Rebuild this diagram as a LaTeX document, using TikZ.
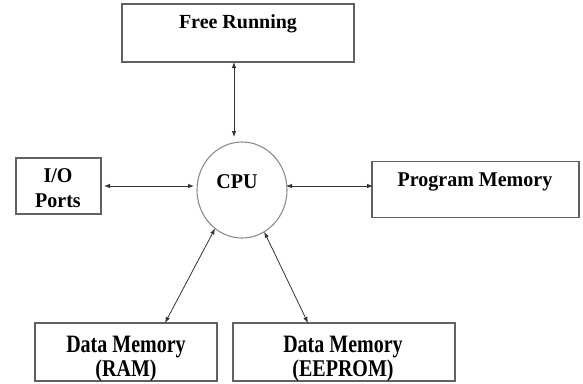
\documentclass[tikz,border=0pt]{standalone}
\usepackage{fontspec}
\setmainfont{Liberation Serif}
\usetikzlibrary{arrows.meta,shapes.geometric,calc}
\definecolor{boxgray}{gray}{0.38}
\definecolor{cpugray}{gray}{0.55}
\definecolor{arrgray}{gray}{0.2}
\begin{document}
\begin{tikzpicture}[x=1pt,y=-1pt,
  box/.style={draw=boxgray,line width=1.1pt,inner sep=0pt,outer sep=0pt,rectangle},
  lbl/.style={font=\fontsize{20}{24}\selectfont\bfseries,anchor=base,inner sep=0pt},
  arr/.style={{Latex[length=6pt,width=4.5pt]}-{Latex[length=6pt,width=4.5pt]},line width=0.8pt,draw=arrgray}]
\useasboundingbox (0,0) rectangle (583,383);
% boxes
\node[box,minimum width=232pt,minimum height=58pt] (fr) at (238,33) {};
\node[box,minimum width=85pt,minimum height=56pt] (io) at (58.5,186) {};
\node[box,minimum width=207pt,minimum height=56pt] (pm) at (475.5,189.5) {};
\node[box,minimum width=182pt,minimum height=58pt] (ram) at (126,352) {};
\node[box,minimum width=222pt,minimum height=58pt] (ee) at (344,352) {};
\node[ellipse,draw=cpugray,line width=1.1pt,minimum width=90pt,minimum height=96pt,inner sep=0pt,outer sep=0pt] (cpu) at (242,190) {};
% labels
\node[lbl] (frt) at (238,28) {Free Running};
\node[lbl] (iot1) at (58,182) {\scalebox{1}[1.05]{I/O}};
\node[lbl] (iot2) at (58,207) {\scalebox{1}[1.05]{Ports}};
\node[lbl] (cput) at (237,188) {\scalebox{1}[1.05]{CPU}};
\node[lbl] (pmt) at (475,186) {\scalebox{1}[1.05]{Program Memory}};
\node[lbl] (ramt1) at (126,352) {\scalebox{1}[1.25]{Data Memory}};
\node[lbl] (ramt2) at (126,376) {\scalebox{1}[1.2]{(RAM)}};
\node[lbl] (eet1) at (343,352) {\scalebox{1}[1.25]{Data Memory}};
\node[lbl] (eet2) at (343,376) {\scalebox{1}[1.2]{(EEPROM)}};
% connectors
\draw[arr] ($(fr.south)+(-4,0)$) -- ($(cpu.north)+(-8,-5)$);
\draw[arr] ($(io.east)+(3,0)$) -- ($(cpu.west)+(-3,-4)$);
\draw[arr] ($(cpu.east)+(-1,-4)$) -- ($(pm.west)+(1,-3.5)$);
\draw[arr] (cpu.235) -- ($(ram.north)+(39,0)$);
\draw[arr] (cpu.298) -- ($(ee.north)+(-36,0)$);
\end{tikzpicture}
\end{document}
